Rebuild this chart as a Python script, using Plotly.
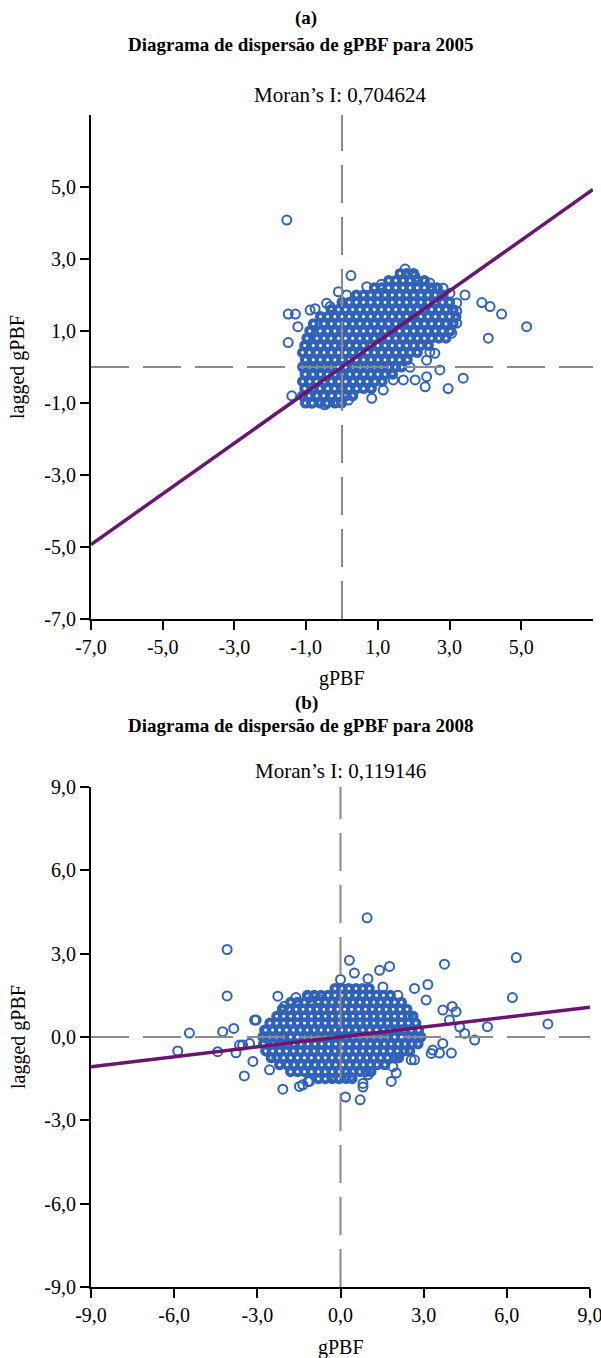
import plotly.graph_objects as go

# ---------------- data ----------------
MORAN_A = 0.704624          # slope of the Moran scatter line, 2005
MORAN_B = 0.119146          # slope of the Moran scatter line, 2008

# Panel (a) 2005: dense core of the cloud, read row by row (y level -> x positions)
a_core_y = [-1.0, -0.8, -0.6, -0.4, -0.2, 0.0, 0.2, 0.4, 0.6, 0.8,
            1.0, 1.2, 1.4, 1.6, 1.8, 2.0, 2.2, 2.4, 2.6]
a_core_x = [
    [-1.02, -0.83, -0.61, -0.42, -0.2, -0.01],
    [-1.1, -0.92, -0.7, -0.51, -0.29, -0.1, 0.11, 0.3],
    [-1.04, -0.8, -0.62, -0.4, -0.21, 0.0, 0.19, 0.41, 0.6, 0.82],
    [-1.1, -0.9, -0.71, -0.5, -0.3, -0.09, 0.1, 0.31, 0.5, 0.7, 0.92, 1.12],
    [-1.03, -0.81, -0.6, -0.41, -0.19, 0.0, 0.22, 0.4, 0.61, 0.8, 1.0, 1.2, 1.41],
    [-1.1, -0.9, -0.7, -0.49, -0.3, -0.1, 0.1, 0.3, 0.51, 0.7, 0.9, 1.1, 1.3, 1.5, 1.66],
    [-1.02, -0.8, -0.61, -0.4, -0.2, 0.01, 0.2, 0.4, 0.6, 0.81, 1.0, 1.2, 1.4, 1.6, 1.82],
    [-1.1, -0.91, -0.7, -0.5, -0.3, -0.1, 0.1, 0.3, 0.5, 0.71, 0.9, 1.1, 1.3, 1.5, 1.7, 1.9, 2.1],
    [-1.04, -0.8, -0.6, -0.4, -0.2, 0.0, 0.2, 0.4, 0.6, 0.8, 1.0, 1.2, 1.4, 1.6, 1.8, 2.0, 2.2, 2.41],
    [-0.98, -0.7, -0.5, -0.31, -0.1, 0.1, 0.3, 0.5, 0.7, 0.9, 1.1, 1.3, 1.5, 1.7, 1.9, 2.1, 2.3, 2.5, 2.7, 2.9],
    [-0.9, -0.61, -0.4, -0.2, 0.0, 0.2, 0.4, 0.6, 0.8, 1.0, 1.2, 1.4, 1.6, 1.8, 2.0, 2.2, 2.4, 2.6, 2.8, 3.02],
    [-0.8, -0.5, -0.3, -0.1, 0.1, 0.3, 0.5, 0.7, 0.9, 1.1, 1.3, 1.5, 1.7, 1.9, 2.1, 2.3, 2.5, 2.7, 2.9, 3.1],
    [-0.6, -0.4, -0.2, 0.0, 0.2, 0.4, 0.6, 0.8, 1.0, 1.2, 1.4, 1.6, 1.8, 2.0, 2.2, 2.4, 2.6, 2.8, 3.0, 3.18],
    [-0.3, -0.1, 0.1, 0.3, 0.5, 0.7, 0.9, 1.1, 1.3, 1.5, 1.7, 1.9, 2.1, 2.3, 2.5, 2.7, 2.9, 3.1],
    [0.0, 0.2, 0.4, 0.6, 0.8, 1.0, 1.2, 1.4, 1.6, 1.8, 2.0, 2.2, 2.4, 2.6, 2.8, 3.0],
    [0.4, 0.6, 0.8, 1.0, 1.2, 1.4, 1.6, 1.8, 2.0, 2.2, 2.4, 2.6, 2.82],
    [0.9, 1.1, 1.3, 1.5, 1.7, 1.9, 2.1, 2.3, 2.5, 2.66],
    [1.3, 1.5, 1.7, 1.9, 2.1, 2.3],
    [1.62, 1.8, 2.0],
]
# Panel (a): scattered edge points and outliers
a_pts_x = [-1.54, -1.5, -1.3, -1.23, -1.5, -1.4, -0.89, -0.75, -0.43, -0.33, -0.1, 0.13,
           0.25, 0.69, 1.1, 1.76, 2.04, 2.45, 2.82, 3.01, 3.43, 3.2, 3.2, 3.2, 3.06,
           3.9, 4.13, 4.45, 4.08, 5.15, 2.45, 2.59, 2.36, 2.73, 3.38, 2.96, 2.32, 2.36,
           2.04, 1.71, 1.43, 0.83, 1.15, 1.9, -0.48, -0.85, -0.1, 0.18]
a_pts_y = [4.08, 1.47, 1.47, 1.12, 0.68, -0.8, 1.58, 1.62, 1.77, 1.68, 2.09, 2.0,
           2.54, 2.23, 2.3, 2.72, 2.5, 2.33, 2.19, 2.05, 2.0, 1.78, 1.55, 1.22, 0.94,
           1.79, 1.68, 1.47, 0.8, 1.12, 0.42, 0.38, 0.19, -0.08, -0.31, -0.6, -0.55, -0.27,
           -0.36, -0.36, -0.36, -0.87, -0.64, -0.01, -1.05, -1.0, -0.98, -0.92]

# Panel (b) 2008: dense core of the cloud, rows
b_core_y = [1.75, 1.5, 1.25, 1.0, 0.75, 0.5, 0.25, 0.0, -0.25, -0.5, -0.75, -1.0, -1.25, -1.5]
b_core_x = [
    [-0.2, 0.05, 0.3, 0.56, 0.8, 1.04],
    [-1.2, -0.95, -0.7, -0.45, -0.2, 0.05, 0.3, 0.55, 0.8, 1.05, 1.3, 1.55, 1.8],
    [-1.8, -1.56, -1.3, -1.05, -0.8, -0.55, -0.3, -0.05, 0.2, 0.45, 0.7, 0.95, 1.2, 1.45, 1.7, 1.95, 2.2],
    [-2.1, -1.85, -1.6, -1.35, -1.1, -0.85, -0.6, -0.35, -0.1, 0.15, 0.4, 0.65, 0.9, 1.15, 1.4, 1.65, 1.9, 2.15, 2.4],
    [-2.3, -2.05, -1.8, -1.55, -1.3, -1.05, -0.8, -0.55, -0.3, -0.05, 0.2, 0.45, 0.7, 0.95, 1.2, 1.45, 1.7, 1.95, 2.2, 2.45, 2.62],
    [-2.55, -2.3, -2.05, -1.8, -1.55, -1.3, -1.05, -0.8, -0.55, -0.3, -0.05, 0.2, 0.45, 0.7, 0.95, 1.2, 1.45, 1.7, 1.95, 2.2, 2.45, 2.72],
    [-2.7, -2.45, -2.2, -1.95, -1.7, -1.45, -1.2, -0.95, -0.7, -0.45, -0.2, 0.05, 0.3, 0.55, 0.8, 1.05, 1.3, 1.55, 1.8, 2.05, 2.3, 2.55, 2.82],
    [-2.8, -2.55, -2.3, -2.05, -1.8, -1.55, -1.3, -1.05, -0.8, -0.55, -0.3, -0.05, 0.2, 0.45, 0.7, 0.95, 1.2, 1.45, 1.7, 1.95, 2.2, 2.45, 2.7, 2.9],
    [-2.78, -2.42, -2.18, -1.92, -1.68, -1.42, -1.18, -0.92, -0.68, -0.42, -0.18, 0.08, 0.32, 0.58, 0.82, 1.08, 1.32, 1.58, 1.82, 2.08, 2.32, 2.58, 2.8],
    [-2.7, -2.45, -2.2, -1.95, -1.7, -1.45, -1.2, -0.95, -0.7, -0.45, -0.2, 0.05, 0.3, 0.55, 0.8, 1.05, 1.3, 1.55, 1.8, 2.05, 2.3, 2.5],
    [-2.5, -2.3, -2.05, -1.8, -1.55, -1.3, -1.05, -0.8, -0.55, -0.3, -0.05, 0.2, 0.45, 0.7, 0.95, 1.2, 1.45, 1.7, 1.95, 2.1],
    [-2.2, -1.92, -1.68, -1.42, -1.18, -0.92, -0.68, -0.42, -0.18, 0.08, 0.32, 0.58, 0.82, 1.08, 1.32, 1.6],
    [-1.8, -1.55, -1.3, -1.05, -0.8, -0.55, -0.3, -0.05, 0.2, 0.45, 0.7, 0.92, 1.1],
    [-0.8, -0.55, -0.3, -0.05, 0.2, 0.42],
]
# Panel (b): scattered edge points and outliers
b_pts_x = [-4.09, -4.09, -5.45, -5.87, -4.25, -3.85, -4.43, -3.77, -3.04, -3.47, -3.53, -2.26,
           -2.08, -1.48, -1.12, 0.32, 0.0, 0.5, 1.41, 1.77, 0.99, 0.96, 3.75, 6.34, 6.2,
           7.48, 5.3, 4.84, 4.48, 4.03, 4.0, 3.57, 3.15, 2.67, 2.67, 2.01, 1.83, 0.81, 0.81,
           0.71, 0.18, -0.16, 3.09, -2.02, -1.61, -1.13, -0.77, 1.53, 2.07, 3.69, 3.93,
           4.17, 4.3, 3.33, 3.69, 3.27, 2.55, 1.89, 0.99, 0.32, -1.17, -1.36, -2.56, -3.16,
           -3.1, -3.28, -2.74, -3.64]
b_pts_y = [3.15, 1.48, 0.14, -0.5, 0.19, 0.31, -0.53, -0.57, 0.61, -1.4, -0.29, 1.47,
           -1.88, -1.78, -1.6, 2.76, 2.07, 2.3, 2.4, 2.54, 2.1, 4.29, 2.62, 2.86, 1.42,
           0.47, 0.37, -0.11, 0.13, 1.1, -0.58, -0.58, 1.89, 1.75, -0.82, -1.3, -1.6, -1.67, -1.8,
           -2.26, -2.16, -1.47, 1.33, 1.11, 1.42, 1.42, 1.35, 1.8, 1.5, 0.97, 0.61,
           0.91, 0.36, -0.47, -0.23, -0.59, -0.82, -1.07, -1.36, -1.42, -1.6, -1.72, -1.18, -0.88,
           0.61, -0.23, 0.25, -0.29]

# axis ranges and ticks
a_range = [-7, 7]
a_ticks_x = [-7, -5, -3, -1, 1, 3, 5]
a_ticks_y = [-7, -5, -3, -1, 1, 3, 5]
b_range = [-9, 9]
b_ticks = [-9, -6, -3, 0, 3, 6, 9]

# ---------------- figure ----------------
W, H = 601, 1358
FONT = "Liberation Serif"
BLUE = "#3062b8"
PURPLE = "#6a1570"
GREY = "#8a8a8a"


def flatten(rows_y, rows_x):
    xs, ys = [], []
    for yv, row in zip(rows_y, rows_x):
        for xv in row:
            xs.append(xv)
            ys.append(yv)
    return xs, ys


def lab(v):
    return f"{v:.1f}".replace(".", ",")


def px_x(p):
    return p / W


def px_y(p):
    return 1 - p / H


fig = go.Figure()
core_marker = dict(symbol="circle-open", size=7, color=BLUE, line=dict(width=4, color=BLUE))
edge_marker = dict(symbol="circle-open", size=9, color=BLUE, line=dict(width=2, color=BLUE))

ax, ay = flatten(a_core_y, a_core_x)
bx, by = flatten(b_core_y, b_core_x)

for xs, ys, px_, py_, xa, ya in [(ax, ay, a_pts_x, a_pts_y, "x", "y"),
                                 (bx, by, b_pts_x, b_pts_y, "x2", "y2")]:
    fig.add_trace(go.Scatter(x=xs, y=ys, mode="markers", marker=core_marker,
                             xaxis=xa, yaxis=ya, showlegend=False, hoverinfo="skip"))
    fig.add_trace(go.Scatter(x=px_, y=py_, mode="markers", marker=edge_marker,
                             xaxis=xa, yaxis=ya, showlegend=False, hoverinfo="skip"))

# mean reference lines (dashed) and Moran fit lines
for rng, slope, xa, ya in [(a_range, MORAN_A, "x", "y"), (b_range, MORAN_B, "x2", "y2")]:
    fig.add_trace(go.Scatter(x=[0, 0], y=rng, mode="lines",
                             line=dict(color=GREY, width=2, dash="38px,14px"),
                             xaxis=xa, yaxis=ya, showlegend=False, hoverinfo="skip"))
    fig.add_trace(go.Scatter(x=rng, y=[0, 0], mode="lines",
                             line=dict(color=GREY, width=2, dash="38px,14px"),
                             xaxis=xa, yaxis=ya, showlegend=False, hoverinfo="skip"))
    fig.add_trace(go.Scatter(x=rng, y=[slope * rng[0], slope * rng[1]], mode="lines",
                             line=dict(color=PURPLE, width=3.5),
                             xaxis=xa, yaxis=ya, showlegend=False, hoverinfo="skip"))

axis_common = dict(showline=True, linecolor="black", linewidth=2, ticks="outside",
                   ticklen=9, tickwidth=2, tickcolor="black", showgrid=False,
                   zeroline=False, automargin=False, ticklabeloverflow="allow",
                   tickfont=dict(family=FONT, size=20, color="black"))

fig.update_layout(
    width=W, height=H, margin=dict(l=0, r=0, t=0, b=0, autoexpand=False),
    paper_bgcolor="white", plot_bgcolor="white",
    xaxis=dict(domain=[px_x(91), px_x(593)], range=a_range, anchor="y",
               tickvals=a_ticks_x, ticktext=[lab(v) for v in a_ticks_x], **axis_common),
    yaxis=dict(domain=[px_y(619), px_y(115)], range=a_range, anchor="x",
               tickvals=a_ticks_y, ticktext=[lab(v) for v in a_ticks_y], **axis_common),
    xaxis2=dict(domain=[px_x(91), px_x(590)], range=b_range, anchor="y2",
                tickvals=b_ticks, ticktext=[lab(v) for v in b_ticks], **axis_common),
    yaxis2=dict(domain=[px_y(1287), px_y(787)], range=b_range, anchor="x2",
                tickvals=b_ticks, ticktext=[lab(v) for v in b_ticks], **axis_common),
)


def note(text, x, y, size=19, bold=False, angle=0):
    fig.add_annotation(text=f"<b>{text}</b>" if bold else text, x=px_x(x), y=px_y(y),
                       xref="paper", yref="paper", showarrow=False, textangle=angle,
                       xanchor="center", yanchor="middle",
                       font=dict(family=FONT, size=size, color="black"))


note("(a)", 306, 18, bold=True)
note("Diagrama de dispersão de gPBF para 2005", 301, 45, bold=True)
note("Moran’s I: 0,704624", 340, 95, size=21)
note("lagged gPBF", 18, 367, size=20, angle=-90)
note("gPBF", 342, 678, size=20)

note("(b)", 306, 703, bold=True)
note("Diagrama de dispersão de gPBF para 2008", 301, 725, bold=True)
note("Moran’s I: 0,119146", 340, 771, size=21)
note("lagged gPBF", 18, 1037, size=20, angle=-90)
note("gPBF", 341, 1347, size=20)

fig.write_html("out.html", config={"displayModeBar": False},
               post_script="document.body.style.margin='0';document.body.style.overflow='hidden';")
